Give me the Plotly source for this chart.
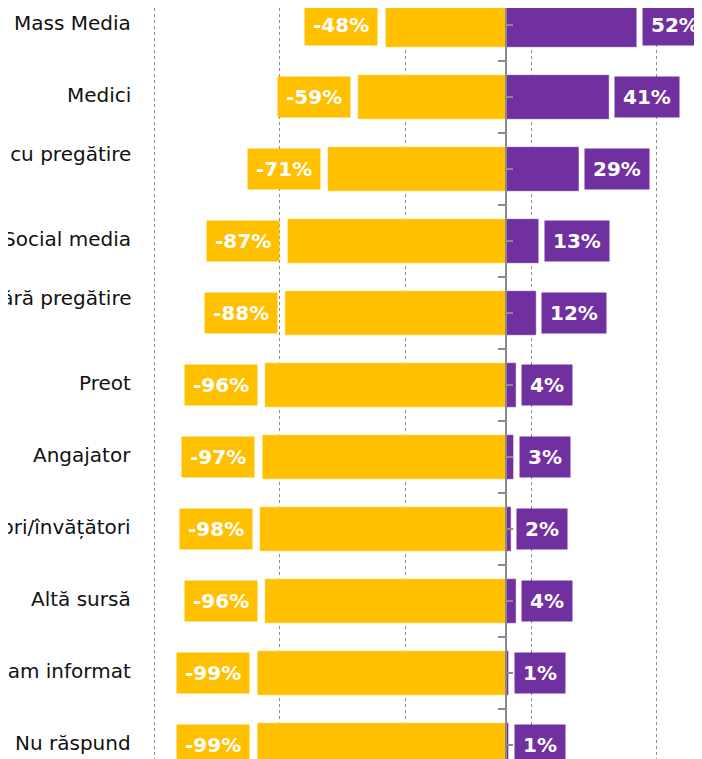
import plotly.graph_objects as go

categories = ["Mass Media", "Medici", "Persoane cu pregătire<br>medicală", "Social media",
              "Persoane fără pregătire<br>medicală", "Preot", "Angajator", "Profesori/învățători",
              "Altă sursă", "Nu m-am informat", "Nu răspund"]
neg_values = [-48, -59, -71, -87, -88, -96, -97, -98, -96, -99, -99]
pos_values = [52, 41, 29, 13, 12, 4, 3, 2, 4, 1, 1]
neg_labels = [f"{v}%" for v in neg_values]
pos_labels = [f"{v}%" for v in pos_values]

YELLOW = "#FFC000"
PURPLE = "#7030A0"
XMIN, XMAX = -141.2, 81.1
Y_RANGE = [10.306, -0.236]
zero_pos = (0 - XMIN) / (XMAX - XMIN)

fig = go.Figure()
fig.add_trace(go.Bar(y=categories, x=neg_values, orientation="h", marker_color=YELLOW,
                     marker_line=dict(color="rgba(255,255,255,0.6)", width=1),
                     hoverinfo="skip", showlegend=False))
fig.add_trace(go.Bar(y=categories, x=pos_values, orientation="h", marker_color=PURPLE,
                     marker_line=dict(color="rgba(255,255,255,0.5)", width=1),
                     hoverinfo="skip", showlegend=False))
# invisible helpers so the overlay axes (tick marks on the zero line) are drawn
fig.add_trace(go.Scatter(x=pos_values, y=list(range(len(categories))), yaxis="y2", mode="markers",
                         marker=dict(opacity=0), hoverinfo="skip", showlegend=False))
fig.add_trace(go.Scatter(x=pos_values, y=list(range(len(categories))), yaxis="y3", mode="markers",
                         marker=dict(opacity=0), hoverinfo="skip", showlegend=False))

annotations = []
for c, v, t in zip(categories, neg_values, neg_labels):
    annotations.append(dict(x=v, y=c, xref="x", yref="y", text=f"<b>{t}</b>", showarrow=False,
                            xanchor="right", xshift=-7, bgcolor=YELLOW, borderpad=8,
                            font=dict(family="DejaVu Sans", size=20, color="white")))
for c, v, t in zip(categories, pos_values, pos_labels):
    annotations.append(dict(x=v, y=c, xref="x", yref="y", text=f"<b>{t}</b>", showarrow=False,
                            xanchor="left", xshift=5, bgcolor=PURPLE, borderpad=8,
                            font=dict(family="DejaVu Sans", size=20, color="white")))
for c in categories:
    annotations.append(dict(x=0, y=c, xref="paper", yref="y", text=c, showarrow=False,
                            xanchor="right", xshift=-18, align="left", yshift=2,
                            font=dict(family="DejaVu Sans", size=20, color="#111111")))

fig.update_layout(
    width=702, height=759,
    margin=dict(l=143, r=0, t=0, b=0),
    paper_bgcolor="white", plot_bgcolor="white",
    barmode="relative", bargap=0.38,
    annotations=annotations,
    xaxis=dict(range=[XMIN, XMAX], tick0=10, dtick=50, showgrid=True, gridcolor="#8c8c8c",
               griddash="dot", gridwidth=1, zeroline=False, showticklabels=False, ticks=""),
    yaxis=dict(range=Y_RANGE, showticklabels=False, ticks="", showgrid=False, showline=False,
               zeroline=False),
    yaxis2=dict(overlaying="y", anchor="free", position=zero_pos, side="left", range=Y_RANGE,
                tick0=0.5, dtick=1, ticks="outside", ticklen=7, tickwidth=2, tickcolor="#8a8a8a",
                showline=True, linecolor="#8a8a8a", linewidth=2, showgrid=False, zeroline=False,
                showticklabels=False),
    yaxis3=dict(overlaying="y", anchor="free", position=zero_pos, side="left", range=Y_RANGE,
                tick0=0, dtick=1, ticks="inside", ticklen=6, tickwidth=2, tickcolor="#8a8a8a",
                showline=False, showgrid=False, zeroline=False, showticklabels=False),
)

fig.write_html("out.html")
